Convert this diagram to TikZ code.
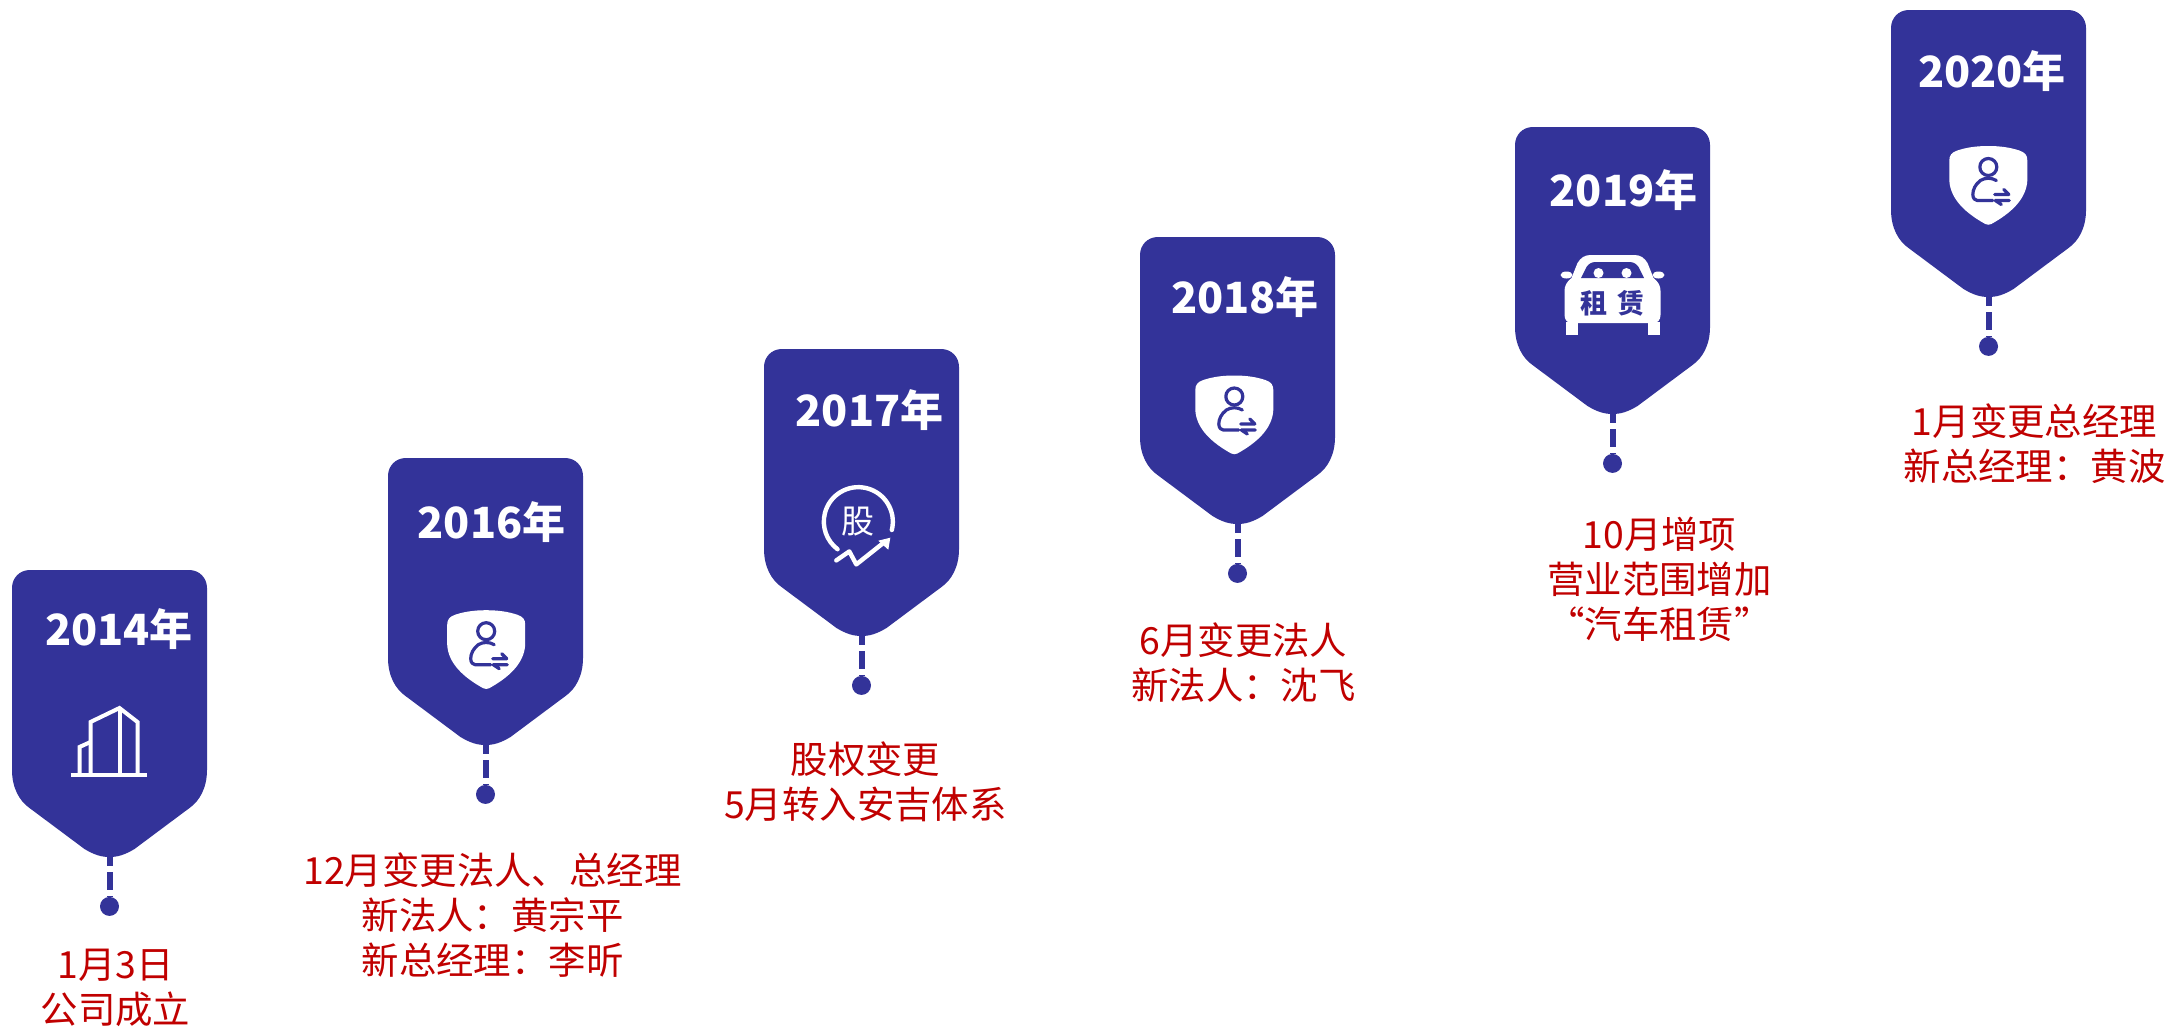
\documentclass[tikz,border=0pt]{standalone}
\usepackage{fontspec}
\usepackage{xcolor}
\usetikzlibrary{positioning}
\newfontfamily\cjk{Noto Sans CJK SC}
\definecolor{pinblue}{HTML}{333399}
\definecolor{notered}{HTML}{C00000}

\begin{document}
\begin{tikzpicture}[x=0.5pt,y=-0.5pt,
yeartext/.style={text=white, font=\cjk\bfseries\fontsize{21.5}{24}\selectfont, inner sep=0pt},
dotnode/.style={circle, fill=pinblue, inner sep=0pt, minimum size=9.5pt},
dashline/.style={draw=pinblue, line width=3pt, dash pattern=on 9pt off 3pt, dash phase=4.5pt},
notetext/.style={text=notered, align=center, inner sep=0pt, font=\cjk\fontsize{18.7}{22.5}\selectfont},
iconline/.style={draw=white, line width=2pt},
personline/.style={draw=pinblue, line width=1.6pt, line cap=round, line join=round},
pics/pin/.style={code={
  \fill[pinblue] (-79.5,0) -- (79.5,0) .. controls (90,0) and (97.5,8) .. (97.5,18) -- (97.5,200)
    .. controls (97.5,218) and (90,231) .. (80,238) -- (25,279) .. controls (15,285) and (8,287) .. (0,287)
    .. controls (-8,287) and (-15,285) .. (-25,279) -- (-80,238) .. controls (-90,231) and (-97.5,218) .. (-97.5,200)
    -- (-97.5,18) .. controls (-97.5,8) and (-90,0) .. (-79.5,0) -- cycle;
  \coordinate (-tip) at (0,287);
}},
pics/building/.style={code={
  \draw[iconline] (-39,0) -- (37,0);
  \draw[iconline] (-19,0) -- (-19,-53) -- (10,-67) -- (28,-53) -- (28,0);
  \draw[iconline] (10,-67) -- (10,0);
  \draw[iconline] (-30,0) -- (-30,-28) -- (-19,-33);
}},
pics/shield/.style={code={
  \fill[white] (0,-39.5) .. controls (-12,-39.5) and (-22,-38) .. (-31,-35) .. controls (-37,-33) and (-39,-30) .. (-39,-25)
    -- (-39,-5) .. controls (-38,14) and (-22,28) .. (-3,38.5) .. controls (-1,39.5) and (1,39.5) .. (3,38.5)
    .. controls (22,28) and (38,14) .. (39,-5) -- (39,-25) .. controls (39,-30) and (37,-33) .. (31,-35)
    .. controls (22,-38) and (12,-39.5) .. (0,-39.5) -- cycle;
  \draw[personline] (0,-18.5) circle (8.5);
  \draw[personline] (8,-5) .. controls (3,-8) and (-3,-8) .. (-8,-5) .. controls (-13,-1) and (-15.5,4) .. (-15.5,9)
    .. controls (-15.5,13) and (-13,15) .. (-11,15) -- (4.5,15);
  \draw[personline] (6.5,9) -- (20.5,9) -- (15.5,4);
  \draw[personline] (21,15) -- (7,15) -- (13,19);
}},
pics/stock/.style={code={
  \draw[draw=white, line width=2.2pt, line cap=round] (33.5,8.3) arc[start angle=14, end angle=-233, radius=34.5];
  \node[text=white, inner sep=0pt, font=\cjk\fontsize{16.5}{18}\selectfont] (-char) at (0,0) {股};
  \draw[draw=white, line width=2.2pt, line cap=round, line join=round] (-22,38.7) -- (-9,29.7) -- (-2,42.7) -- (27,19.7);
  \fill[white] (32,16) -- (20,19) -- (30,28) -- cycle;
}},
pics/car/.style={code={
  \fill[white] (-47,27) rectangle (-35,40);
  \fill[white] (35,27) rectangle (47,40);
  \fill[white] (-46,-20) ellipse (6 and 3.5);
  \fill[white] (46,-20) ellipse (6 and 3.5);
  \fill[white] (-22,-40) -- (22,-40) .. controls (28,-40) and (32,-37) .. (35,-32) -- (41,-17) .. controls (46,-13) and (48,-9) .. (48,-4)
    -- (48,20) .. controls (48,25) and (45,28) .. (41,28) -- (-41,28) .. controls (-45,28) and (-48,25) .. (-48,20)
    -- (-48,-4) .. controls (-48,-9) and (-46,-13) .. (-41,-17) -- (-35,-32) .. controls (-32,-37) and (-28,-40) .. (-22,-40) -- cycle;
  \fill[pinblue] (-17,-33) -- (17,-33) .. controls (21,-33) and (24,-31) .. (26,-28) -- (31.5,-17) -- (-31.5,-17) -- (-26,-28) .. controls (-24,-31) and (-21,-33) .. (-17,-33) -- cycle;
  \fill[white] (-14,-22) circle (5);
  \fill[white] (14,-22) circle (5);
  \node[text=pinblue, inner sep=0pt, font=\cjk\bfseries\fontsize{13.5}{15}\selectfont] (-word) at (0,8) {租\hspace{5pt}赁};
}}]
\useasboundingbox (0,0) rectangle (2171,1028);

\pic (p14) at (109.5,570) {pin};
\pic (p16) at (485.5,458) {pin};
\pic (p17) at (861.5,349) {pin};
\pic (p18) at (1237.5,237) {pin};
\pic (p19) at (1612.5,127) {pin};
\pic (p20) at (1988.5,10) {pin};

\node[yeartext] (y14) at (119,629.5) {2014年};
\node[yeartext] (y16) at (491.5,522.5) {2016年};
\node[yeartext] (y17) at (869.5,410) {2017年};
\node[yeartext] (y18) at (1245,297.5) {2018年};
\node[yeartext] (y19) at (1623.5,190) {2019年};
\node[yeartext] (y20) at (1992,71) {2020年};

\pic (i14) at (109.5,775) {building};
\pic (i16) at (486.2,649.7) {shield};
\pic (i17) at (858.3,521.7) {stock};
\pic (i18) at (1234.3,415) {shield};
\pic (i19) at (1612.5,295) {car};
\pic (i20) at (1988.3,185.5) {shield};

\node[dotnode] (d14) [below=19.75pt of p14-tip] {};
\node[dotnode] (d16) [below=19.75pt of p16-tip] {};
\node[dotnode] (d17) [below=19.75pt of p17-tip] {};
\node[dotnode] (d18) [below=19.75pt of p18-tip] {};
\node[dotnode] (d19) [below=19.75pt of p19-tip] {};
\node[dotnode] (d20) [below=19.75pt of p20-tip] {};

\draw[dashline] (p14-tip) -- (d14);
\draw[dashline] (p16-tip) -- (d16);
\draw[dashline] (p17-tip) -- (d17);
\draw[dashline] (p18-tip) -- (d18);
\draw[dashline] (p19-tip) -- (d19);
\draw[dashline] (p20-tip) -- (d20);

\node[notetext] (n14) [below=16pt of d14, xshift=3pt] {1月3日\\公司成立};
\node[notetext] (n16) [below=24pt of d16, xshift=3.5pt] {12月变更法人、总经理\\新法人：黄宗平\\新总经理：李昕};
\node[notetext] (n17) [below=23pt of d17, xshift=2pt] {股权变更\\5月转入安吉体系};
\node[notetext] (n18) [below=19.5pt of d18, xshift=3pt] {6月变更法人\\新法人：沈飞};
\node[notetext] (n19) [below=21.5pt of d19, xshift=23.5pt] {10月增项\\营业范围增加\\“汽车租赁”};
\node[notetext] (n20) [below=23.5pt of d20, xshift=23pt] {1月变更总经理\\新总经理：黄波};
\end{tikzpicture}
\end{document}
